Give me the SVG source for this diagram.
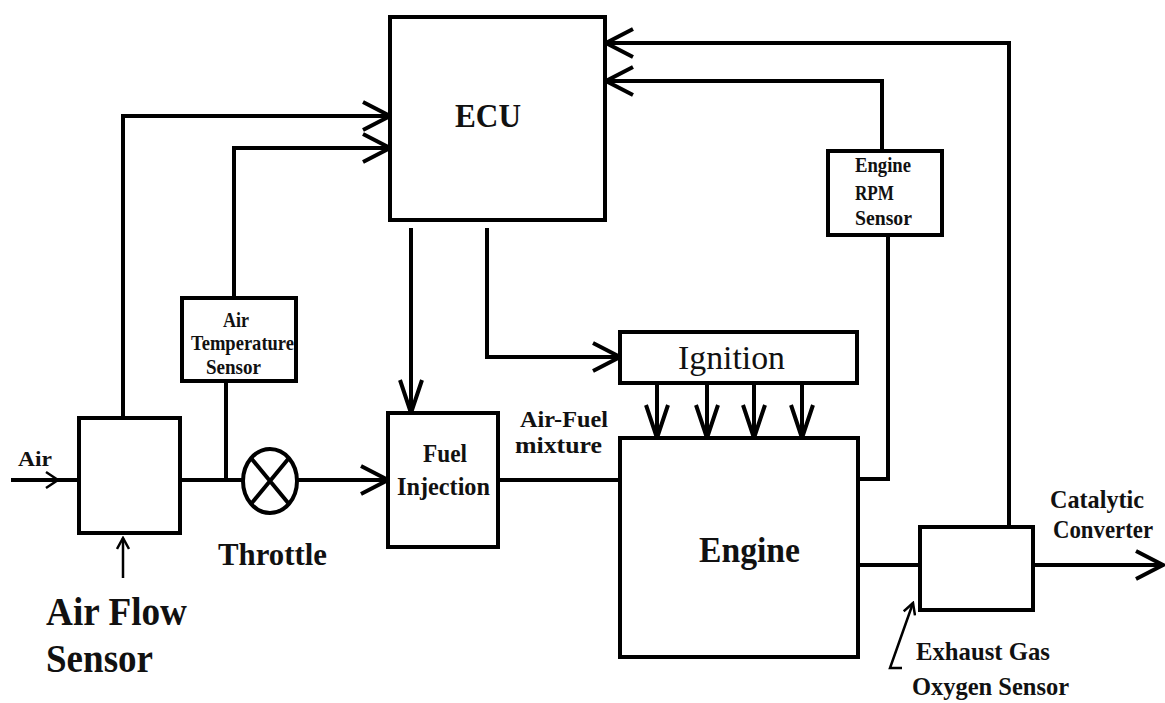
<svg xmlns="http://www.w3.org/2000/svg" width="1165" height="703" viewBox="0 0 1165 703">
<style>
.box{fill:#fff;stroke:#000;stroke-width:4}
.ln{fill:none;stroke:#000;stroke-width:4}
.thin{fill:none;stroke:#000;stroke-width:2.5}
.t{font-family:"Liberation Serif","Times New Roman",serif;font-weight:bold;fill:#111}
.r{font-family:"Liberation Serif","Times New Roman",serif;font-weight:normal;fill:#111}
</style>
<defs>
<marker id="big" viewBox="0 0 32 32" refX="29" refY="16" markerWidth="32" markerHeight="32" markerUnits="userSpaceOnUse" orient="auto">
<path d="M2,2 L29,16 L2,30" fill="none" stroke="#000" stroke-width="4"/>
</marker>
<marker id="tall" viewBox="0 0 38 26" refX="35" refY="13" markerWidth="38" markerHeight="26" markerUnits="userSpaceOnUse" orient="auto">
<path d="M2,2 L35,13 L2,24" fill="none" stroke="#000" stroke-width="4"/>
</marker>
<marker id="small" viewBox="0 0 14 14" refX="12" refY="7" markerWidth="14" markerHeight="14" markerUnits="userSpaceOnUse" orient="auto">
<path d="M1,1 L12,7 L1,13" fill="none" stroke="#000" stroke-width="2.5"/>
</marker>
</defs>
<rect width="1165" height="703" fill="#fff"/>

<g id="connectors">
<path class="ln" d="M11,480 H78"/>
<polyline class="thin" points="46,472 58,480 46,488"/>
<path class="ln" d="M180,480 H243"/>
<path class="ln" d="M297,480 H388" marker-end="url(#big)"/>
<path class="ln" d="M123,418 V116 H390" marker-end="url(#big)"/>
<path class="ln" d="M234,297 V148 H390" marker-end="url(#big)"/>
<path class="ln" d="M226,382 V480"/>
<path class="ln" d="M411,228 V413" marker-end="url(#tall)"/>
<path class="ln" d="M487,228 V357 H620" marker-end="url(#big)"/>
<path class="ln" d="M498,480 H620"/>
<path class="ln" d="M657,383 V438" marker-end="url(#tall)"/>
<path class="ln" d="M707,383 V438" marker-end="url(#tall)"/>
<path class="ln" d="M754,383 V438" marker-end="url(#tall)"/>
<path class="ln" d="M802,383 V438" marker-end="url(#tall)"/>
<path class="ln" d="M858,479 H888 V235"/>
<path class="ln" d="M882,151 V81 H606" marker-end="url(#big)"/>
<path class="ln" d="M1009,527 V43 H606" marker-end="url(#big)"/>
<path class="ln" d="M858,565 H920"/>
<path class="ln" d="M1033,565 H1163" marker-end="url(#big)"/>
<path class="thin" d="M123,578 V538" marker-end="url(#small)"/>
<path class="thin" d="M902,668 H890 L913,603" marker-end="url(#small)"/>
</g>

<g id="ecu">
<rect class="box" x="390" y="17" width="215" height="203"/>
<text class="t" x="455" y="127" font-size="34" textLength="66" lengthAdjust="spacingAndGlyphs">ECU</text>
</g>

<g id="air-flow-sensor">
<rect class="box" x="79" y="418" width="101" height="115"/>
<text class="t" x="18" y="466" font-size="22" textLength="34" lengthAdjust="spacingAndGlyphs">Air</text>
<text class="t" x="46" y="625" font-size="40" textLength="141" lengthAdjust="spacingAndGlyphs">Air Flow</text>
<text class="t" x="46" y="672" font-size="40" textLength="107" lengthAdjust="spacingAndGlyphs">Sensor</text>
</g>

<g id="air-temperature-sensor">
<rect class="box" x="182" y="298" width="114" height="83"/>
<text class="t" x="223" y="327" font-size="21" textLength="26" lengthAdjust="spacingAndGlyphs">Air</text>
<text class="t" x="191" y="350" font-size="21" textLength="103" lengthAdjust="spacingAndGlyphs">Temperature</text>
<text class="t" x="206" y="374" font-size="21" textLength="55" lengthAdjust="spacingAndGlyphs">Sensor</text>
</g>

<g id="throttle">
<ellipse class="ln" cx="270" cy="481" rx="27" ry="32"/>
<path class="ln" d="M251,458 L289,504 M289,458 L251,504"/>
<text class="t" x="218" y="565" font-size="32" textLength="109" lengthAdjust="spacingAndGlyphs">Throttle</text>
</g>

<g id="fuel-injection">
<rect class="box" x="388" y="413" width="110" height="134"/>
<text class="t" x="423" y="462" font-size="26" textLength="44" lengthAdjust="spacingAndGlyphs">Fuel</text>
<text class="t" x="397" y="495" font-size="26" textLength="93" lengthAdjust="spacingAndGlyphs">Injection</text>
</g>

<g id="air-fuel-label">
<text class="t" x="520" y="427" font-size="24" textLength="88" lengthAdjust="spacingAndGlyphs">Air-Fuel</text>
<text class="t" x="515" y="453" font-size="24" textLength="87" lengthAdjust="spacingAndGlyphs">mixture</text>
</g>

<g id="ignition">
<rect class="box" x="620" y="332" width="237" height="51"/>
<text class="r" x="678" y="369" font-size="34" textLength="107" lengthAdjust="spacingAndGlyphs">Ignition</text>
</g>

<g id="engine">
<rect class="box" x="620" y="438" width="238" height="219"/>
<text class="t" x="699" y="562" font-size="36" textLength="101" lengthAdjust="spacingAndGlyphs">Engine</text>
</g>

<g id="engine-rpm-sensor">
<rect class="box" x="828" y="151" width="114" height="84"/>
<text class="t" x="855" y="172" font-size="21" textLength="56" lengthAdjust="spacingAndGlyphs">Engine</text>
<text class="t" x="855" y="200" font-size="21" textLength="39" lengthAdjust="spacingAndGlyphs">RPM</text>
<text class="t" x="855" y="225" font-size="21" textLength="57" lengthAdjust="spacingAndGlyphs">Sensor</text>
</g>

<g id="oxygen-sensor">
<rect class="box" x="920" y="527" width="113" height="83"/>
<text class="t" x="916" y="660" font-size="26" textLength="134" lengthAdjust="spacingAndGlyphs">Exhaust Gas</text>
<text class="t" x="912" y="695" font-size="26" textLength="157" lengthAdjust="spacingAndGlyphs">Oxygen Sensor</text>
</g>

<g id="catalytic-converter">
<text class="t" x="1050" y="508" font-size="26" textLength="94" lengthAdjust="spacingAndGlyphs">Catalytic</text>
<text class="t" x="1053" y="538" font-size="26" textLength="100" lengthAdjust="spacingAndGlyphs">Converter</text>
</g>
</svg>
